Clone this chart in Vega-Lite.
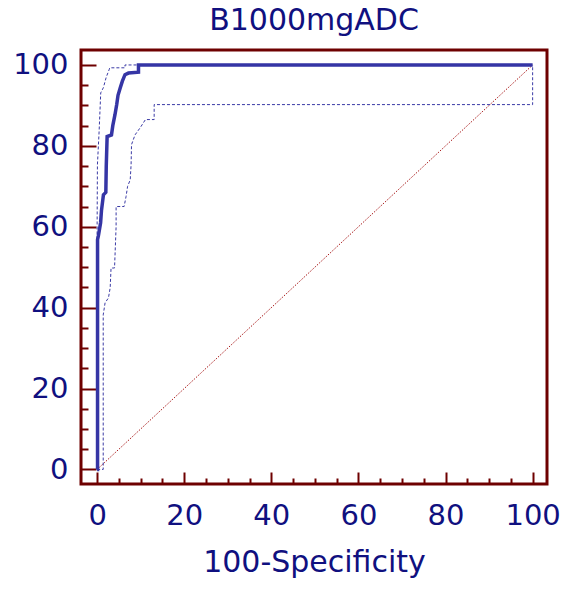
{
  "$schema": "https://vega.github.io/schema/vega-lite/v6.json",
  "width": 466,
  "height": 434,
  "autosize": {"type": "none"},
  "padding": {"left": 81, "top": 50, "right": 19, "bottom": 106},
  "background": "white",
  "title": {
    "text": "B1000mgADC",
    "font": "DejaVu Sans",
    "fontSize": 30,
    "fontWeight": "normal",
    "color": "#10107f",
    "anchor": "middle",
    "frame": "group",
    "baseline": "alphabetic",
    "offset": -10
  },
  "config": {
    "view": {"stroke": "#6e0000", "strokeWidth": 3},
    "axis": {
      "domain": false,
      "grid": false,
      "labelFont": "DejaVu Sans",
      "labelFontSize": 29,
      "labelColor": "#10107f",
      "titleFont": "DejaVu Sans",
      "titleFontSize": 30,
      "titleFontWeight": "normal",
      "titleColor": "#10107f",
      "tickColor": "#6e0000",
      "tickWidth": 2,
      "labelOverlap": false,
      "labelFlush": false,
      "labelBound": false
    }
  },
  "datasets": {
    "roc": [
      {"o": 1, "x": 0, "y": 0},
      {"o": 2, "x": 0.1, "y": 0},
      {"o": 3, "x": 0.1, "y": 56.8},
      {"o": 4, "x": 0.3, "y": 57.8},
      {"o": 5, "x": 0.8, "y": 61},
      {"o": 6, "x": 1.0, "y": 64},
      {"o": 7, "x": 1.45, "y": 67.9},
      {"o": 8, "x": 2.0, "y": 68.5},
      {"o": 9, "x": 2.1, "y": 75},
      {"o": 10, "x": 2.3, "y": 82.3},
      {"o": 11, "x": 3.3, "y": 82.7},
      {"o": 12, "x": 3.6, "y": 85},
      {"o": 13, "x": 4.1, "y": 87.7},
      {"o": 14, "x": 4.5, "y": 90.2},
      {"o": 15, "x": 4.8, "y": 92.5},
      {"o": 16, "x": 5.3, "y": 94.3},
      {"o": 17, "x": 5.8, "y": 96},
      {"o": 18, "x": 6.4, "y": 97.6},
      {"o": 19, "x": 7.2, "y": 98.0},
      {"o": 20, "x": 9.5, "y": 98.2},
      {"o": 21, "x": 9.5, "y": 100},
      {"o": 22, "x": 100, "y": 100}
    ],
    "upper": [
      {"o": 1, "x": 0, "y": 0},
      {"o": 2, "x": 0, "y": 60},
      {"o": 3, "x": 0.07, "y": 75.3},
      {"o": 4, "x": 0.46, "y": 83.6},
      {"o": 5, "x": 0.83, "y": 93.1},
      {"o": 6, "x": 1.44, "y": 94.4},
      {"o": 7, "x": 2.1, "y": 97},
      {"o": 8, "x": 2.75, "y": 98.8},
      {"o": 9, "x": 2.9, "y": 99.3},
      {"o": 10, "x": 6.4, "y": 99.3},
      {"o": 11, "x": 6.4, "y": 100},
      {"o": 12, "x": 100, "y": 100}
    ],
    "lower": [
      {"o": 1, "x": 0, "y": 0},
      {"o": 2, "x": 1.4, "y": 0},
      {"o": 3, "x": 1.4, "y": 38.2},
      {"o": 4, "x": 1.83, "y": 41.2},
      {"o": 5, "x": 2.6, "y": 42.4},
      {"o": 6, "x": 3.0, "y": 44.9},
      {"o": 7, "x": 3.2, "y": 49.8},
      {"o": 8, "x": 4.0, "y": 49.8},
      {"o": 9, "x": 4.1, "y": 52.6},
      {"o": 10, "x": 4.36, "y": 60},
      {"o": 11, "x": 4.36, "y": 65},
      {"o": 12, "x": 6.2, "y": 65},
      {"o": 13, "x": 6.65, "y": 67.5},
      {"o": 14, "x": 7.0, "y": 70},
      {"o": 15, "x": 7.6, "y": 71.6},
      {"o": 16, "x": 7.8, "y": 75.3},
      {"o": 17, "x": 7.9, "y": 80.3},
      {"o": 18, "x": 8.7, "y": 82.7},
      {"o": 19, "x": 9.9, "y": 84.5},
      {"o": 20, "x": 11.1, "y": 86.5},
      {"o": 21, "x": 13.1, "y": 86.5},
      {"o": 22, "x": 13.1, "y": 90.2},
      {"o": 23, "x": 100, "y": 90.2},
      {"o": 24, "x": 100, "y": 100}
    ],
    "diag": [
      {"o": 1, "x": 0, "y": 0},
      {"o": 2, "x": 100, "y": 100}
    ]
  },
  "encoding": {
    "x": {
      "field": "x",
      "type": "quantitative",
      "scale": {"domain": [-3.7, 103.3], "nice": false, "zero": false},
      "axis": {
        "title": "100-Specificity",
        "values": [0, 5, 10, 15, 20, 25, 30, 35, 40, 45, 50, 55, 60, 65, 70, 75, 80, 85, 90, 95, 100],
        "labelExpr": "datum.value % 20 === 0 ? datum.label : ''",
        "tickSize": {"condition": {"test": "datum.value % 20 === 0", "value": -12}, "value": -6},
        "labelPadding": 29,
        "titlePadding": 11
      }
    },
    "y": {
      "field": "y",
      "type": "quantitative",
      "scale": {"domain": [-3.6, 103.7], "nice": false, "zero": false},
      "axis": {
        "title": null,
        "values": [0, 5, 10, 15, 20, 25, 30, 35, 40, 45, 50, 55, 60, 65, 70, 75, 80, 85, 90, 95, 100],
        "labelExpr": "datum.value % 20 === 0 ? datum.label : ''",
        "tickSize": {"condition": {"test": "datum.value % 20 === 0", "value": -15}, "value": -7},
        "labelPadding": 28
      }
    },
    "order": {"field": "o", "type": "quantitative"}
  },
  "layer": [
    {
      "data": {"name": "diag"},
      "mark": {"type": "line", "color": "#a81818", "strokeWidth": 1, "strokeDash": [1.5, 1.5]}
    },
    {
      "data": {"name": "lower"},
      "mark": {"type": "line", "color": "#3a3aa5", "strokeWidth": 1, "strokeDash": [3, 2]}
    },
    {
      "data": {"name": "upper"},
      "mark": {"type": "line", "color": "#3a3aa5", "strokeWidth": 1, "strokeDash": [3, 2]}
    },
    {
      "data": {"name": "roc"},
      "mark": {"type": "line", "color": "#3535a5", "strokeWidth": 3.5}
    }
  ]
}
